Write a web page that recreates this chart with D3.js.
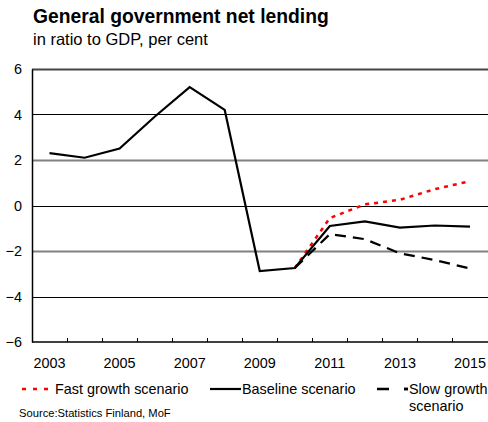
<!DOCTYPE html>
<html>
<head>
<meta charset="utf-8">
<script src="https://cdn.jsdelivr.net/npm/d3@7"></script>
<style>
  body { margin: 0; background: #fff; }
  svg { display: block; font-family: "Liberation Sans", Arial, sans-serif; }
</style>
</head>
<body>
<div id="chart"></div>
<script>
// Data
const years = [2003, 2004, 2005, 2006, 2007, 2008, 2009, 2010, 2011, 2012, 2013, 2014, 2015];
const baseline = [2.3, 2.1, 2.5, 3.9, 5.2, 4.2, -2.88, -2.75, -0.9, -0.7, -0.97, -0.88, -0.93];
const fastYears = [2010, 2011, 2012, 2013, 2014, 2015];
const fastGrowth = [-2.75, -0.55, 0.05, 0.25, 0.72, 1.07];
const slowYears = [2010, 2011, 2012, 2013, 2014, 2015];
const slowGrowth = [-2.75, -1.26, -1.48, -2.1, -2.4, -2.77];
const yTicks = [-6, -4, -2, 0, 2, 4, 6];
const xLabels = [2003, 2005, 2007, 2009, 2011, 2013, 2015];

const width = 488, height = 422;
const margin = { top: 69, right: 0.5, bottom: 80, left: 32 };
const labelSize = '14.4px';

const svg = d3.select('#chart').append('svg')
  .attr('width', width)
  .attr('height', height);

const x = d3.scaleBand()
  .domain(years)
  .range([margin.left, width - margin.right])
  .padding(0);

const y = d3.scaleLinear()
  .domain([-6, 6])
  .range([height - margin.bottom, margin.top]);

const cx = d => x(d) + x.bandwidth() / 2;

// Title
svg.append('text')
  .attr('x', 33).attr('y', 23)
  .attr('font-size', '19.3px').attr('font-weight', 'bold')
  .text('General government net lending');

svg.append('text')
  .attr('x', 33).attr('y', 45)
  .attr('font-size', '16.5px')
  .text('in ratio to GDP, per cent');

// Grid lines
svg.append('g')
  .selectAll('line')
  .data(yTicks.filter(d => d > -6))
  .enter()
  .append('line')
  .attr('x1', margin.left)
  .attr('x2', width)
  .attr('y1', d => Math.round(y(d)) + 0.5)
  .attr('y2', d => Math.round(y(d)) + 0.5)
  .attr('stroke', d => (d === 6 ? '#444' : (Math.abs(d) === 2 ? '#808080' : '#000')))
  .attr('stroke-width', d => (d === 6 ? 2 : (Math.abs(d) === 2 ? 2 : 1.2)));

// Y axis
const yAxis = svg.append('g')
  .attr('transform', `translate(${margin.left},0)`)
  .call(d3.axisLeft(y).tickValues(yTicks).tickSize(0).tickPadding(10));
yAxis.select('.domain').attr('stroke', '#000').attr('stroke-width', 1.5);
yAxis.selectAll('text').attr('font-size', labelSize).attr('fill', '#000')
  .attr('font-family', '"Liberation Sans", Arial, sans-serif');

// X axis with inward ticks at band boundaries
const xBottom = y(-6);
svg.append('line')
  .attr('x1', margin.left).attr('x2', width)
  .attr('y1', xBottom).attr('y2', xBottom)
  .attr('stroke', '#000').attr('stroke-width', 1.5);

svg.append('g')
  .selectAll('line')
  .data(years.slice(1))
  .enter()
  .append('line')
  .attr('x1', d => Math.round(x(d)) + 0.5)
  .attr('x2', d => Math.round(x(d)) + 0.5)
  .attr('y1', xBottom)
  .attr('y2', xBottom - 4)
  .attr('stroke', '#000');

svg.append('g')
  .selectAll('text')
  .data(xLabels)
  .enter()
  .append('text')
  .attr('x', d => cx(d))
  .attr('y', 368)
  .attr('text-anchor', 'middle')
  .attr('font-size', labelSize)
  .text(d => d);

// Lines
const line = d3.line()
  .x(d => cx(d[0]))
  .y(d => y(d[1]));

svg.append('path')
  .datum(fastYears.map((yr, i) => [yr, fastGrowth[i]]))
  .attr('d', line)
  .attr('fill', 'none')
  .attr('stroke', '#ff0000')
  .attr('stroke-width', 2.5)
  .attr('stroke-dasharray', '4,5');

svg.append('path')
  .datum(slowYears.map((yr, i) => [yr, slowGrowth[i]]))
  .attr('d', line)
  .attr('fill', 'none')
  .attr('stroke', '#000')
  .attr('stroke-width', 2.2)
  .attr('stroke-dasharray', '11,7');

svg.append('path')
  .datum(years.map((yr, i) => [yr, baseline[i]]))
  .attr('d', line)
  .attr('fill', 'none')
  .attr('stroke', '#000')
  .attr('stroke-width', 2.2)
  .attr('stroke-linejoin', 'miter');

// Legend
const legend = svg.append('g');
const ly = 389;

legend.append('line')
  .attr('x1', 22).attr('x2', 53).attr('y1', ly).attr('y2', ly)
  .attr('stroke', '#ff0000').attr('stroke-width', 2.5).attr('stroke-dasharray', '4,7');
legend.append('text')
  .attr('x', 55).attr('y', 394).attr('font-size', labelSize)
  .text('Fast growth scenario');

legend.append('line')
  .attr('x1', 210).attr('x2', 241).attr('y1', ly).attr('y2', ly)
  .attr('stroke', '#000').attr('stroke-width', 2.2);
legend.append('text')
  .attr('x', 242).attr('y', 394).attr('font-size', labelSize)
  .text('Baseline scenario');

legend.append('line')
  .attr('x1', 377).attr('x2', 408).attr('y1', ly).attr('y2', ly)
  .attr('stroke', '#000').attr('stroke-width', 2.5).attr('stroke-dasharray', '12,15');
legend.append('line')
  .attr('x1', 404).attr('x2', 408).attr('y1', ly).attr('y2', ly)
  .attr('stroke', '#000').attr('stroke-width', 2.5);
legend.append('text')
  .attr('x', 409).attr('y', 394).attr('font-size', labelSize)
  .text('Slow growth');
legend.append('text')
  .attr('x', 409).attr('y', 411).attr('font-size', labelSize)
  .text('scenario');

svg.append('text')
  .attr('x', 19).attr('y', 417).attr('font-size', '11.2px')
  .text('Source:Statistics Finland, MoF');
</script>
</body>
</html>
